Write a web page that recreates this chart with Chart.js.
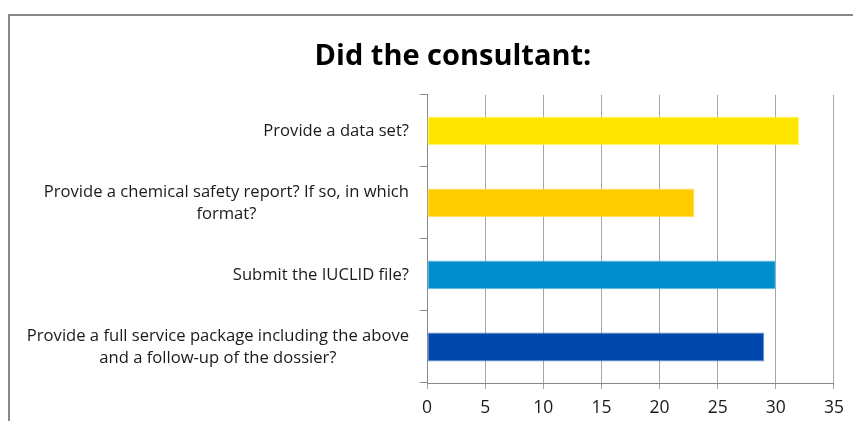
<!DOCTYPE html>
<html>
<head>
<meta charset="utf-8">
<script src="https://cdn.jsdelivr.net/npm/chart.js@4"></script>
<style>
  body { margin: 0; background: #fff; }
  #wrap { position: relative; width: 853px; height: 421px; }
  #frame { position: absolute; left: 8px; top: 14px; width: 860px; height: 420px;
           border-top: 2px solid #888; border-left: 2px solid #888; }
  canvas { position: absolute; left: 0; top: 0; }
</style>
</head>
<body>
<div id="wrap">
  <div id="frame"></div>
  <canvas id="chart" width="853" height="421"></canvas>
</div>
<script>
// data
var categories = [
    ["Provide a data set?"],
    ["Provide a chemical safety report? If so, in which", "format?"],
    ["Submit the IUCLID file?"],
    ["Provide a full service package including the above", "and a follow-up of the dossier?"]
];
var counts = [32, 23, 30, 29];
var barColors = ["#FFE600", "#FFCC00", "#008FCC", "#0047AB"];
var barEdges = ["#FFF080", "#FFDD66", "#66BBE0", "#6690CC"];
var xTicks = [0, 5, 10, 15, 20, 25, 30, 35];

// draws the category labels: block right aligned, lines centred in the block
var yLabels = {
    id: 'yLabels',
    afterDraw: function (chart) {
        var ctx = chart.ctx;
        var yScale = chart.scales.y;
        var right = yScale.right - 18;
        var lineH = 22;
        ctx.save();
        ctx.font = '16.6px "Open Sans"';
        ctx.fillStyle = '#1a1a1a';
        ctx.textAlign = 'center';
        ctx.textBaseline = 'middle';
        categories.forEach(function (lines, i) {
            var w = Math.max.apply(null, lines.map(function (l) { return ctx.measureText(l).width; }));
            var cx = right - w / 2;
            var cy = yScale.getPixelForValue(i);
            lines.forEach(function (l, j) {
                ctx.fillText(l, cx, cy + (j - (lines.length - 1) / 2) * lineH);
            });
        });
        ctx.restore();
    }
};

var ctx = document.getElementById('chart').getContext('2d');
window.chart = new Chart(ctx, {
    type: 'bar',
    data: {
        labels: categories.map(function (c) { return c.join(' '); }),
        datasets: [{
            data: counts,
            backgroundColor: barColors,
            borderColor: barEdges,
            borderWidth: 1,
            borderSkipped: false,
            categoryPercentage: 0.4,
            barPercentage: 1
        }]
    },
    options: {
        indexAxis: 'y',
        responsive: false,
        animation: false,
        layout: { padding: { left: 71, right: 18, top: 0, bottom: 0 } },
        plugins: {
            legend: { display: false },
            tooltip: { enabled: false },
            title: {
                display: true,
                text: 'Did the consultant:',
                color: '#000',
                font: { family: '"Open Sans"', size: 29, weight: 'bold', lineHeight: 1.2 },
                padding: { top: 39, bottom: 21 }
            }
        },
        scales: {
            x: {
                min: 0,
                max: 35,
                afterBuildTicks: function (scale) {
                    scale.ticks = xTicks.map(function (v) { return { value: v }; });
                },
                afterFit: function (scale) { scale.height = 38; },
                grid: { color: '#A6A6A6', tickLength: 6, lineWidth: 1 },
                border: { color: '#888', width: 1 },
                ticks: {
                    color: '#1a1a1a',
                    padding: 9,
                    font: { family: '"Open Sans"', size: 17.5 }
                }
            },
            y: {
                afterFit: function (scale) { scale.width = 356; },
                grid: { drawOnChartArea: false, color: '#888', tickLength: 7 },
                border: { color: '#888', width: 1 },
                ticks: { display: false }
            }
        }
    },
    plugins: [yLabels]
});
</script>
</body>
</html>
